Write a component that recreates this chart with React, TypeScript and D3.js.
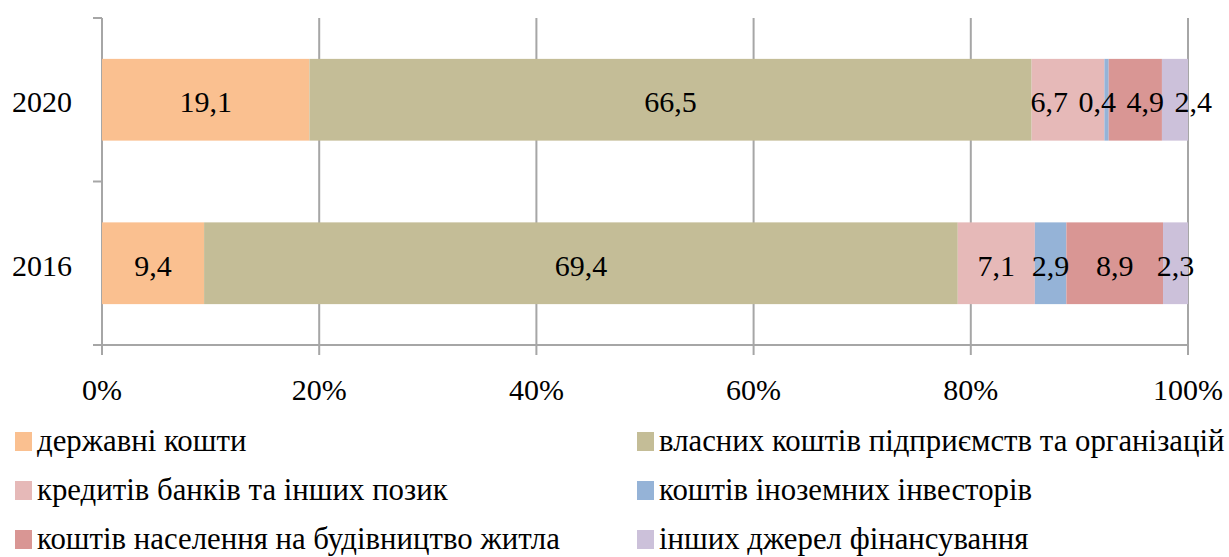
import React from "react";
import * as d3 from "d3";

const years = ["2020", "2016"];
const seriesNames = [
  "державні кошти",
  "власних коштів підприємств та організацій",
  "кредитів банків та інших позик",
  "коштів іноземних інвесторів",
  "коштів населення на будівництво житла",
  "інших джерел фінансування",
];
const values2020 = [19.1, 66.5, 6.7, 0.4, 4.9, 2.4];
const values2016 = [9.4, 69.4, 7.1, 2.9, 8.9, 2.3];
const seriesColors = ["#FAC090", "#C4BD97", "#E6B9B8", "#95B3D7", "#D99694", "#CCC1DA"];
const xTicks = [0, 0.2, 0.4, 0.6, 0.8, 1];

const W = 1229;
const H = 557;
const left = 102;
const right = 1188;
const top = 18;
const bottom = 345;
const FONT = "Liberation Serif, DejaVu Serif, serif";
const GRID = "#A6A6A6";

function spreadLabels(centers: number[], minGap: number): number[] {
  const pos = centers.slice();
  for (let it = 0; it < 200; it++) {
    let moved = false;
    for (let i = 0; i < pos.length - 1; i++) {
      const d = pos[i + 1] - pos[i];
      if (d < minGap - 0.01) {
        const s = (minGap - d) / 2;
        pos[i] -= s;
        pos[i + 1] += s;
        moved = true;
      }
    }
    if (!moved) break;
  }
  return pos;
}

const txt: React.CSSProperties = { fontFamily: FONT, fontSize: 30, fill: "#000" };
const legTxt: React.CSSProperties = { fontFamily: FONT, fontSize: 30.8, fill: "#000" };

export default function App() {
  const x = d3.scaleLinear().domain([0, 1]).range([left, right]);
  const y = d3.scaleBand().domain(years).range([top, bottom]).paddingInner(0).paddingOuter(0);
  const barH = y.bandwidth() * 0.5;
  const data: Record<string, number[]> = { "2020": values2020, "2016": values2016 };
  const fmt = (v: number) => v.toFixed(1).replace(".", ",");

  return (
    <svg width={W} height={H} style={{ position: "absolute", left: 0, top: 0, background: "#fff" }}>
      {xTicks.map((t) => (
        <line key={"g" + t} x1={x(t)} x2={x(t)} y1={top} y2={bottom + 10} stroke={GRID} strokeWidth={2} />
      ))}
      {[top, bottom, y("2016") as number].map((yy, i) => (
        <line key={"yt" + i} x1={left - 9} x2={left} y1={yy} y2={yy} stroke={GRID} strokeWidth={2} />
      ))}
      <line x1={left - 9} x2={right} y1={bottom} y2={bottom} stroke={GRID} strokeWidth={2} />
      {years.map((yr) => {
        const vals = data[yr];
        const total = d3.sum(vals);
        const cum = d3.cumsum(vals);
        const yc = (y(yr) as number) + y.bandwidth() / 2;
        const y0 = yc - barH / 2;
        const centers = vals.map((v, i) => x((cum[i] - v / 2) / total));
        const tail = spreadLabels(centers.slice(2), 48);
        const labelX = centers.map((c, i) => (i >= 2 ? tail[i - 2] : c));
        return (
          <g key={yr}>
            {vals.map((v, i) => (
              <rect
                key={i}
                x={x((cum[i] - v) / total)}
                y={y0}
                width={x(cum[i] / total) - x((cum[i] - v) / total)}
                height={barH}
                fill={seriesColors[i]}
              />
            ))}
            {vals.map((v, i) => (
              <text key={"l" + i} x={labelX[i]} y={yc + 12.5} textAnchor="middle" style={txt}>
                {fmt(v)}
              </text>
            ))}
            <text x={72} y={yc + 12.5} textAnchor="end" style={txt}>
              {yr}
            </text>
          </g>
        );
      })}
      {xTicks.map((t) => (
        <text key={"xl" + t} x={x(t)} y={400} textAnchor="middle" style={txt}>
          {d3.format(".0%")(t)}
        </text>
      ))}
      {seriesNames.map((name, i) => {
        const col = i % 2;
        const row = Math.floor(i / 2);
        const lx = col === 0 ? 15 : 637;
        const ly = 432 + row * 49;
        return (
          <g key={"lg" + i}>
            <rect x={lx} y={ly} width={17} height={19} fill={seriesColors[i]} />
            <text x={lx + 22} y={ly + 19} style={legTxt}>
              {name}
            </text>
          </g>
        );
      })}
    </svg>
  );
}
